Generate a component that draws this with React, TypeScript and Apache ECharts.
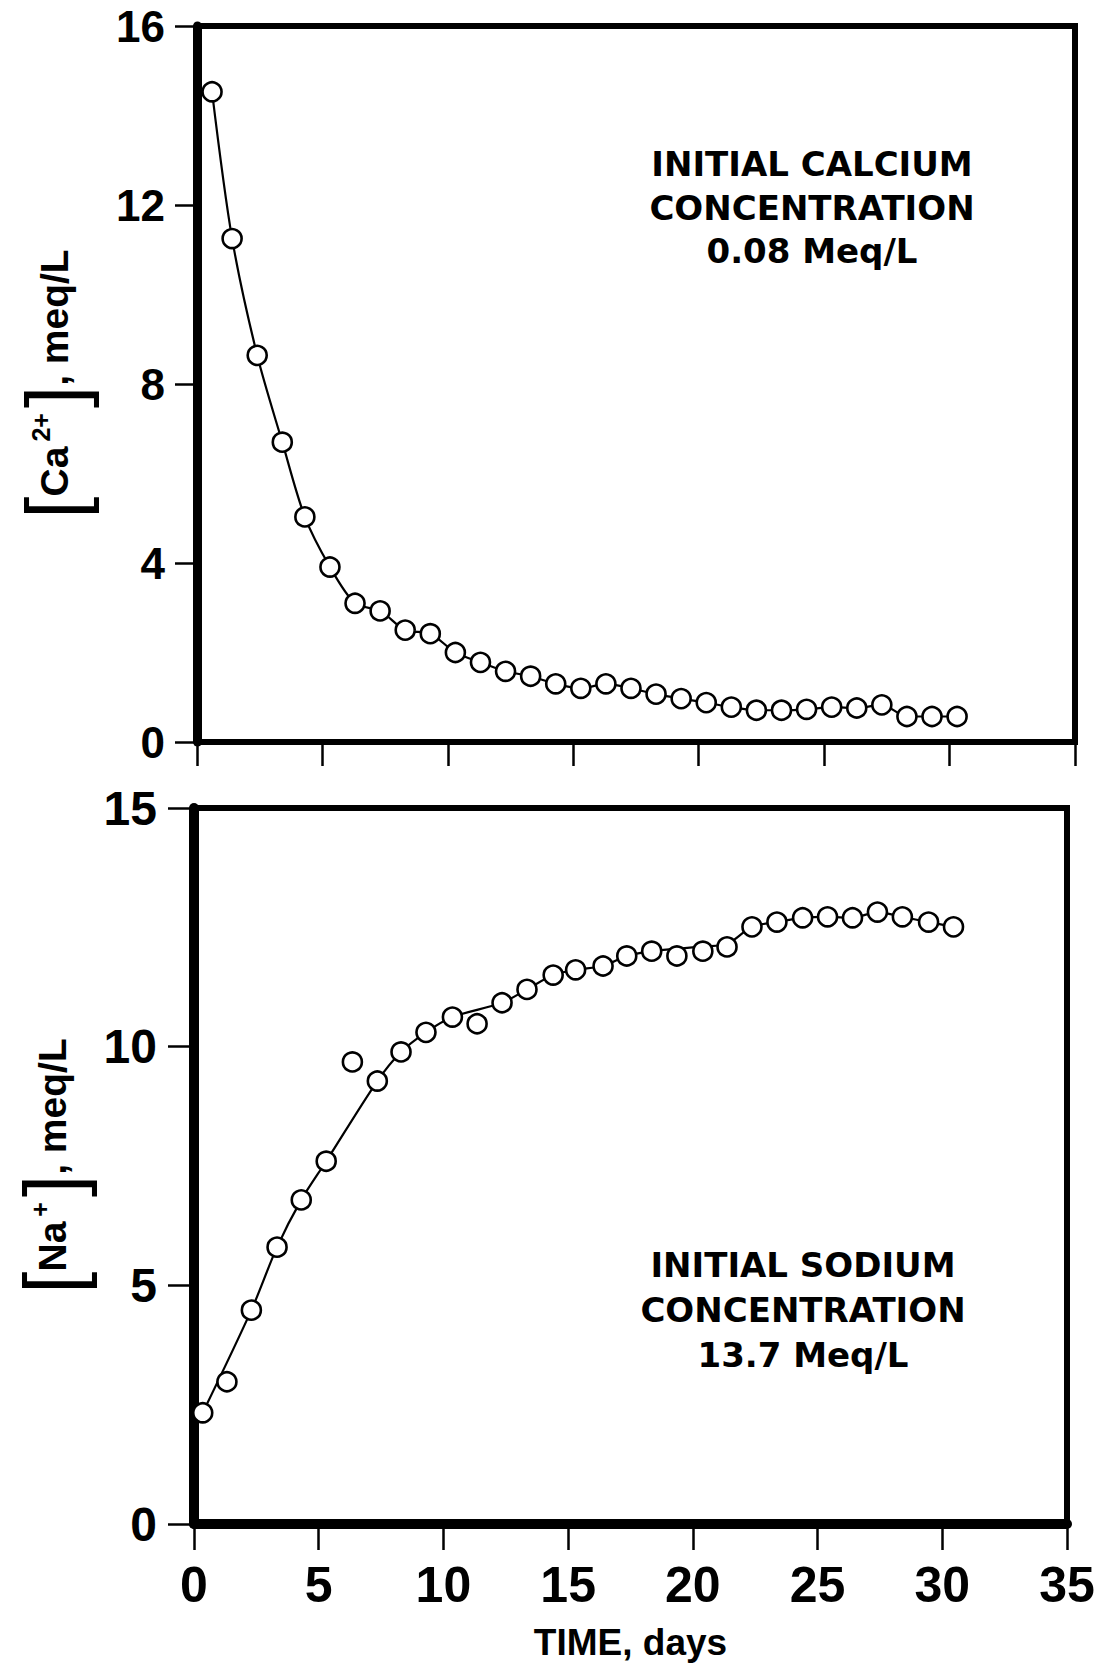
import React, { useEffect, useRef } from "react";
import * as echarts from "echarts";

// ---- Data ----
const xTicks = [0, 5, 10, 15, 20, 25, 30, 35];

// Top panel: calcium
const caDays = [0.6, 1.4, 2.4, 3.4, 4.3, 5.3, 6.3, 7.3, 8.3, 9.3, 10.3, 11.3, 12.3, 13.3, 14.3, 15.3, 16.3, 17.3, 18.3, 19.3, 20.3, 21.3, 22.3, 23.3, 24.3, 25.3, 26.3, 27.3, 28.3, 29.3, 30.3];
const caValues = [14.53, 11.25, 8.64, 6.7, 5.03, 3.91, 3.1, 2.93, 2.5, 2.42, 2.0, 1.78, 1.58, 1.47, 1.3, 1.2, 1.3, 1.2, 1.07, 0.97, 0.88, 0.78, 0.71, 0.71, 0.73, 0.78, 0.76, 0.83, 0.57, 0.57, 0.57];

// Bottom panel: sodium (observed points)
const naDays = [0.35, 1.32, 2.3, 3.33, 4.3, 5.3, 6.35, 7.35, 8.3, 9.3, 10.36, 11.35, 12.35, 13.35, 14.4, 15.3, 16.4, 17.35, 18.35, 19.36, 20.4, 21.37, 22.37, 23.37, 24.4, 25.4, 26.4, 27.4, 28.4, 29.45, 30.45];
const naValues = [2.33, 2.98, 4.48, 5.8, 6.79, 7.6, 9.68, 9.28, 9.89, 10.3, 10.62, 10.48, 10.92, 11.2, 11.5, 11.61, 11.69, 11.9, 12.0, 11.9, 12.0, 12.09, 12.51, 12.61, 12.7, 12.72, 12.7, 12.82, 12.72, 12.61, 12.51];

// Bottom panel: fitted curve
const naFitDays = [0.35, 2.3, 3.33, 4.3, 5.3, 7.35, 8.3, 9.3, 10.36, 12.35, 13.35, 14.4, 15.3, 16.4, 17.35, 18.35, 19.36, 20.4, 21.37, 22.37, 23.37, 24.4, 25.4, 26.4, 27.4, 28.4, 29.45, 30.45];
const naFitValues = [2.33, 4.48, 5.8, 6.79, 7.6, 9.28, 9.89, 10.3, 10.62, 10.92, 11.2, 11.5, 11.61, 11.69, 11.9, 12.0, 12.05, 12.1, 12.15, 12.51, 12.61, 12.7, 12.72, 12.7, 12.82, 12.72, 12.61, 12.51];

const caTicks = [0, 4, 8, 12, 16];
const naTicks = [0, 5, 10, 15];

const caNote = ["INITIAL CALCIUM", "CONCENTRATION", "0.08 Meq/L"];
const naNote = ["INITIAL SODIUM", "CONCENTRATION", "13.7 Meq/L"];

const LABEL_FONT = "'Liberation Sans', Arial, sans-serif";
const NOTE_FONT = "'DejaVu Sans', 'Liberation Sans', sans-serif";

export default function App() {
  const ref = useRef<HTMLDivElement>(null);

  useEffect(() => {
    if (!ref.current) return;
    const chart = echarts.init(ref.current, undefined, { renderer: "svg" });

    const pts = (xs: number[], ys: number[]) => xs.map((x, i) => [x, ys[i]]);

    const circleStyle = {
      color: "#fff",
      borderColor: "#000",
      borderWidth: 2.6,
      opacity: 1,
    };

    const nameRich = (main: string, sup: string) => ({
      text: `{br|[}{t|${main}}{sup|${sup}}{br|]}{t|, meq/L}`,
      rich: {
        br: { fontSize: 80, lineHeight: 74, fontWeight: "normal", fontFamily: LABEL_FONT, color: "#000" },
        t: { fontSize: 39, lineHeight: 74, fontWeight: "bold", fontFamily: LABEL_FONT, color: "#000" },
        sup: { fontSize: 25, fontWeight: "bold", fontFamily: LABEL_FONT, color: "#000", padding: [0, 5, 26, 5] },
      },
    });

    const caName = nameRich("Ca", "2+");
    const naName = nameRich("Na", "+");

    const noteEls = (lines: string[], cx: number, ys: number[]) =>
      lines.map((t, i) => ({
        type: "text",
        x: cx,
        y: ys[i],
        style: {
          text: t,
          fill: "#000",
          font: `bold 34px ${NOTE_FONT}`,
          textAlign: "center",
          textVerticalAlign: "middle",
          align: "center",
          verticalAlign: "middle",
        },
      }));

    const option: any = {
      animation: false,
      backgroundColor: "#fff",
      grid: [
        { left: 197, right: 24, top: 26, height: 716, show: true, borderColor: "#000", borderWidth: 6, backgroundColor: "transparent", containLabel: false, outerBoundsMode: "none" },
        { left: 194, right: 32, top: 808, height: 716, show: true, borderColor: "#000", borderWidth: 6, backgroundColor: "transparent", containLabel: false, outerBoundsMode: "none" },
      ],
      xAxis: [
        {
          gridIndex: 0,
          type: "value",
          min: xTicks[0],
          max: xTicks[xTicks.length - 1],
          interval: 5,
          axisLine: { show: true, lineStyle: { color: "#000", width: 6 } },
          axisTick: { show: true, inside: false, length: 24, lineStyle: { color: "#000", width: 2.5 } },
          axisLabel: { show: false },
          splitLine: { show: false },
        },
        {
          gridIndex: 1,
          type: "value",
          min: xTicks[0],
          max: xTicks[xTicks.length - 1],
          interval: 5,
          axisLine: { show: true, lineStyle: { color: "#000", width: 10 } },
          axisTick: { show: true, inside: false, length: 26, lineStyle: { color: "#000", width: 2.5 } },
          axisLabel: { show: true, margin: 36, fontSize: 50, fontWeight: "bold", fontFamily: LABEL_FONT, color: "#000" },
          splitLine: { show: false },
          name: "TIME, days",
          nameLocation: "middle",
          nameGap: 100,
          nameTextStyle: { fontSize: 37, fontWeight: "bold", fontFamily: LABEL_FONT, color: "#000" },
        },
      ],
      yAxis: [
        {
          gridIndex: 0,
          type: "value",
          min: caTicks[0],
          max: caTicks[caTicks.length - 1],
          interval: 4,
          axisLine: { show: true, lineStyle: { color: "#000", width: 9 } },
          axisTick: { show: true, inside: false, length: 22, lineStyle: { color: "#000", width: 2.5 } },
          axisLabel: { show: true, margin: 32, fontSize: 44, fontWeight: "bold", fontFamily: LABEL_FONT, color: "#000" },
          splitLine: { show: false },
          name: caName.text,
          nameLocation: "middle",
          nameRotate: 90,
          nameGap: 106,
          nameTextStyle: { rich: caName.rich },
        },
        {
          gridIndex: 1,
          type: "value",
          min: naTicks[0],
          max: naTicks[naTicks.length - 1],
          interval: 5,
          axisLine: { show: true, lineStyle: { color: "#000", width: 10 } },
          axisTick: { show: true, inside: false, length: 26, lineStyle: { color: "#000", width: 2.5 } },
          axisLabel: { show: true, margin: 37, fontSize: 48, fontWeight: "bold", fontFamily: LABEL_FONT, color: "#000" },
          splitLine: { show: false },
          name: naName.text,
          nameLocation: "middle",
          nameRotate: 90,
          nameGap: 103,
          nameTextStyle: { rich: naName.rich },
        },
      ],
      series: [
        {
          type: "line",
          xAxisIndex: 0,
          yAxisIndex: 0,
          data: pts(caDays, caValues),
          smooth: 0.3,
          symbol: "circle",
          symbolSize: 19,
          itemStyle: circleStyle,
          lineStyle: { color: "#000", width: 2.2 },
          z: 3,
        },
        {
          type: "line",
          xAxisIndex: 1,
          yAxisIndex: 1,
          data: pts(naFitDays, naFitValues),
          smooth: 0.3,
          showSymbol: false,
          symbol: "none",
          lineStyle: { color: "#000", width: 2.2 },
          z: 2,
        },
        {
          type: "scatter",
          xAxisIndex: 1,
          yAxisIndex: 1,
          data: pts(naDays, naValues),
          symbol: "circle",
          symbolSize: 19,
          itemStyle: circleStyle,
          z: 4,
        },
      ],
      graphic: [
        ...noteEls(caNote, 812, [164, 208, 251]),
        ...noteEls(naNote, 803, [1265, 1310, 1355]),
      ],
    };

    chart.setOption(option);
    return () => chart.dispose();
  }, []);

  return (
    <div
      ref={ref}
      style={{ position: "absolute", left: 0, top: 0, width: 1099, height: 1664, background: "#fff" }}
    />
  );
}
